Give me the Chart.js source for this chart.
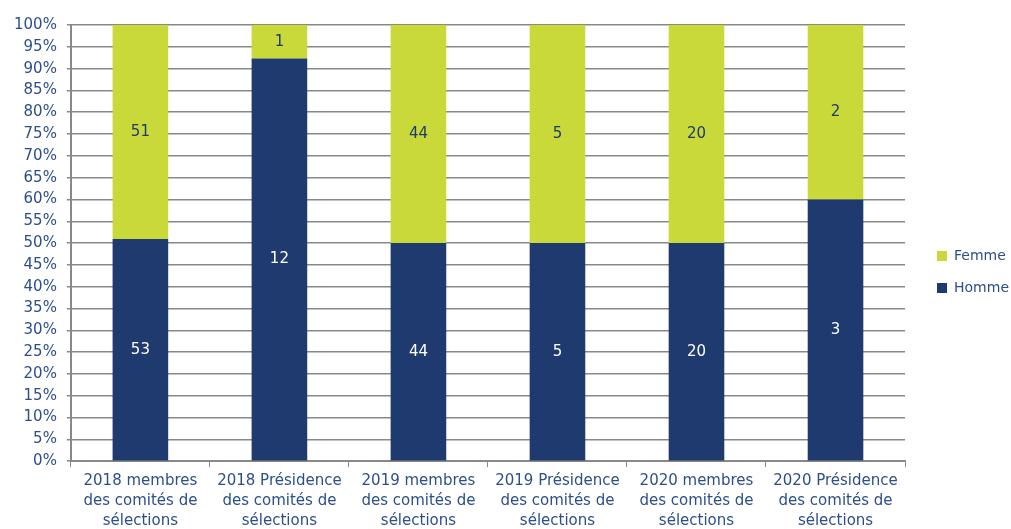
<!DOCTYPE html>
<html>
<head>
<meta charset="utf-8">
<script src="https://cdn.jsdelivr.net/npm/chart.js@4/dist/chart.umd.min.js"></script>
<style>
  html, body { margin: 0; padding: 0; background: #fff; }
  #wrap { width: 1011px; height: 529px; }
</style>
</head>
<body>
<div id="wrap"><canvas id="myBarChart"></canvas></div>
<script>
"use strict";

// categories (multi-line labels)
const categories = [
  ['2018 membres', 'des comités de', 'sélections'],
  ['2018 Présidence', 'des comités de', 'sélections'],
  ['2019 membres', 'des comités de', 'sélections'],
  ['2019 Présidence', 'des comités de', 'sélections'],
  ['2020 membres', 'des comités de', 'sélections'],
  ['2020 Présidence', 'des comités de', 'sélections']
];
// counts shown on the bars
const hommeCounts = [53, 12, 44, 5, 20, 3];
const femmeCounts = [51, 1, 44, 5, 20, 2];
const yTicks = [0, 5, 10, 15, 20, 25, 30, 35, 40, 45, 50, 55, 60, 65, 70, 75, 80, 85, 90, 95, 100];

const textColor = '#2c4f8c';
const fontFam = 'DejaVu Sans, Verdana, sans-serif';

// 100% stacking
const hommePct = hommeCounts.map((h, i) => h / (h + femmeCounts[i]) * 100);
const femmePct = femmeCounts.map((f, i) => f / (hommeCounts[i] + f) * 100);

// draw counts in the middle of each segment
const countLabels = {
  id: 'countLabels',
  afterDatasetsDraw(chart) {
    const ctx = chart.ctx;
    ctx.save();
    ctx.font = '15px ' + fontFam;
    ctx.textAlign = 'center';
    ctx.textBaseline = 'middle';
    chart.data.datasets.forEach((ds, di) => {
      const meta = chart.getDatasetMeta(di);
      meta.data.forEach((bar, i) => {
        const y = (bar.y + bar.base) / 2;
        ctx.fillStyle = ds.labelColor;
        ctx.fillText(String(ds.counts[i]), bar.x, y);
      });
    });
    ctx.restore();
  }
};

// nudge the legend: gap from the plot, a bit higher
const legendSpace = {
  id: 'legendSpace',
  beforeInit(chart) {
    const fit = chart.legend.fit;
    chart.legend.fit = function () {
      fit.bind(chart.legend)();
      this.width += 6;
    };
  },
  afterLayout(chart) {
    chart.legend.left += 14;
    chart.legend.top -= 8;
    chart.legend.bottom -= 8;
  }
};

const barCtx = document.getElementById('myBarChart').getContext('2d');
let myBarChart = new Chart(barCtx, {
  type: 'bar',
  data: {
    labels: categories,
    datasets: [
      {
        label: 'Homme',
        data: hommePct,
        counts: hommeCounts,
        labelColor: '#ffffff',
        backgroundColor: '#1f3a6e',
        barPercentage: 0.4,
        categoryPercentage: 1.0
      },
      {
        label: 'Femme',
        data: femmePct,
        counts: femmeCounts,
        labelColor: '#1f3a6e',
        backgroundColor: '#c9d93a',
        barPercentage: 0.4,
        categoryPercentage: 1.0
      }
    ]
  },
  options: {
    responsive: true,
    maintainAspectRatio: false,
    animation: false,
    layout: { padding: { top: 25, left: 4, right: 0, bottom: -6 } },
    plugins: {
      tooltip: { enabled: false },
      legend: {
        position: 'right',
        reverse: true,
        labels: {
          boxWidth: 10,
          boxHeight: 10,
          padding: 18,
          color: textColor,
          font: { family: fontFam, size: 14 }
        }
      }
    },
    scales: {
      x: {
        stacked: true,
        grid: { display: true, drawOnChartArea: false, color: '#888', tickLength: 6, offset: true },
        border: { color: '#888', width: 2 },
        ticks: {
          color: textColor,
          font: { family: fontFam, size: 15, lineHeight: 1.33 },
          maxRotation: 0,
          autoSkip: false,
          padding: 4
        }
      },
      y: {
        stacked: true,
        min: 0,
        max: 100,
        afterBuildTicks: (axis) => { axis.ticks = yTicks.map(v => ({ value: v })); },
        grid: { color: '#888', lineWidth: 1.5, tickLength: 4 },
        border: { color: '#888', width: 2 },
        ticks: {
          color: textColor,
          font: { family: fontFam, size: 15 },
          padding: 10,
          callback: (v) => v + '%'
        }
      }
    }
  },
  plugins: [countLabels, legendSpace]
});
</script>
</body>
</html>
